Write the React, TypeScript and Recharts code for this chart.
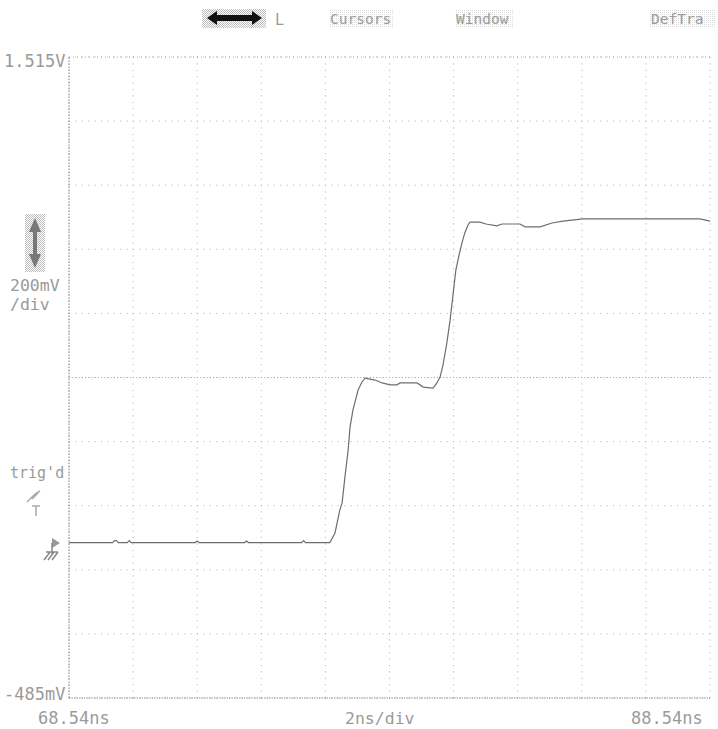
import React from 'react'
import { LineChart, Line, XAxis, YAxis, CartesianGrid, ReferenceLine } from 'recharts'

// trace samples (ns, V)
const times = [
  68.54, 69.9, 69.96, 70.02, 70.08, 70.36, 70.42, 70.48, 72.48, 72.54, 72.6,
  74.02, 74.08, 74.14, 75.8, 75.86, 75.92, 76.68, 76.84, 76.99, 77.06, 77.15, 77.25,
  77.31, 77.4, 77.56, 77.68, 77.78, 78.09, 78.31, 78.56, 78.77, 78.87, 79.4,
  79.59, 79.9, 80.02, 80.12, 80.21, 80.33, 80.43, 80.52, 80.61, 80.71, 80.8,
  80.89, 80.99, 81.05, 81.36, 81.55, 81.89, 82.05, 82.61, 82.77, 83.24, 83.61,
  83.95, 84.58, 85.73, 86.98, 88.23, 88.54,
]
const volts = [
  0.0, 0.0, 0.006, 0.006, 0.0, 0.0, 0.006, 0.0, 0.0, 0.005, 0.0,
  0.0, 0.005, 0.0, 0.0, 0.006, 0.0, 0.0, 0.03, 0.102, 0.123, 0.205, 0.289,
  0.361, 0.414, 0.476, 0.501, 0.513, 0.507, 0.498, 0.492, 0.492, 0.498, 0.498,
  0.485, 0.482, 0.498, 0.517, 0.554, 0.623, 0.694, 0.772, 0.85, 0.897, 0.935,
  0.966, 0.991, 1.0, 1.0, 0.994, 0.988, 0.994, 0.994, 0.985, 0.985, 0.997,
  1.003, 1.01, 1.01, 1.01, 1.01, 1.003,
]

const xTicks = [68.54, 70.54, 72.54, 74.54, 76.54, 78.54, 80.54, 82.54, 84.54, 86.54, 88.54]
const yTicks = [-0.485, -0.285, -0.085, 0.115, 0.315, 0.515, 0.715, 0.915, 1.115, 1.315, 1.515]

const data = times.map((t, i) => ({ t, v: volts[i] }))

const txt = '#9a9a9a'
const mono = '"DejaVu Sans Mono", monospace'

export default function App() {
  return (
    <div style={{ position: 'absolute', left: 0, top: 0, width: 718, height: 729, background: '#fff' }}>
      <LineChart
        width={718}
        height={729}
        data={data}
        margin={{ top: 57, right: 8, left: 69, bottom: 31 }}
      >
        <XAxis dataKey="t" type="number" domain={[68.54, 88.54]} ticks={xTicks} hide />
        <YAxis type="number" domain={[-0.485, 1.515]} ticks={yTicks} hide />
        <CartesianGrid stroke="#b0b0b0" strokeDasharray="1 5.4" />
        <ReferenceLine y={0.515} stroke="#a0a0a0" strokeDasharray="1 2.2" />
        <ReferenceLine y={1.515} stroke="#a8a8a8" strokeDasharray="1 3" />
        <ReferenceLine y={-0.485} stroke="#909090" strokeDasharray="1.5 1" />
        <ReferenceLine x={68.54} stroke="#808080" strokeDasharray="1.5 1.5" />
        <Line
          dataKey="v"
          type="linear"
          stroke="#6e6e6e"
          strokeWidth={1.2}
          dot={false}
          isAnimationActive={false}
        />
      </LineChart>
      <svg
        width={718}
        height={729}
        style={{ position: 'absolute', left: 0, top: 0, pointerEvents: 'none' }}
        fontFamily={mono}
      >
        <defs>
          <pattern id="dith" width="2" height="2" patternUnits="userSpaceOnUse">
            <rect width="2" height="2" fill="#fff" />
            <rect width="1" height="1" fill="#bdbdbd" />
            <rect x="1" y="1" width="1" height="1" fill="#bdbdbd" />
          </pattern>
          <pattern id="dithLight" width="2" height="2" patternUnits="userSpaceOnUse">
            <rect width="2" height="2" fill="#fff" />
            <rect width="1" height="1" fill="#dadada" />
          </pattern>
        </defs>

        {/* top menu */}
        <rect x={202} y={9} width={64} height={19} fill="url(#dith)" />
        <path d="M207 18 L217 11 L217 15 L252 15 L252 11 L262 18 L252 25 L252 21 L217 21 L217 25 Z" fill="#111" />
        <text x={275} y={25} fontSize={15} fill={txt}>L</text>
        <rect x={329} y={9} width={65} height={19} fill="url(#dithLight)" />
        <text x={330} y={24} fontSize={14.5} fill={txt}>Cursors</text>
        <rect x={455} y={9} width={58} height={19} fill="url(#dithLight)" />
        <text x={456} y={24} fontSize={14.5} fill={txt}>Window</text>
        <rect x={650} y={9} width={66} height={19} fill="url(#dithLight)" />
        <text x={651} y={24} fontSize={14.5} fill={txt}>DefTra</text>

        {/* left labels */}
        <text x={4} y={67} fontSize={17} fill={txt}>1.515V</text>
        <rect x={25} y={214} width={20} height={58} fill="url(#dith)" />
        <path d="M35 218 L41 232 L37 232 L37 254 L41 254 L35 268 L29 254 L33 254 L33 232 L29 232 Z" fill="#777" />
        <text x={10} y={291} fontSize={16.5} fill={txt}>200mV</text>
        <text x={10} y={310} fontSize={16.5} fill={txt}>/div</text>
        <text x={10} y={478} fontSize={15} fill={txt}>trig'd</text>
        <path d="M27 502 L35 494 L40 491 M32 499 L38 493" stroke="#aaa" strokeWidth={1.5} fill="none" />
        <path d="M32 506 L40 506 M36 506 L36 516" stroke="#aaa" strokeWidth={1.5} fill="none" />
        <path d="M52 538 L60 543 L52 548 Z" fill="#999" />
        <path d="M52 543 L52 555 M44 560 L50 552 M48 560 L54 552 M52 560 L58 552 M46 552 L58 552" stroke="#888" strokeWidth={1.5} fill="none" />
        <text x={4} y={700} fontSize={17} fill={txt}>-485mV</text>

        {/* bottom labels */}
        <text x={38} y={724} fontSize={17} fill={txt}>68.54ns</text>
        <text x={345} y={724} fontSize={16.5} fill={txt}>2ns/div</text>
        <text x={631} y={724} fontSize={17} fill={txt}>88.54ns</text>
      </svg>
    </div>
  )
}
